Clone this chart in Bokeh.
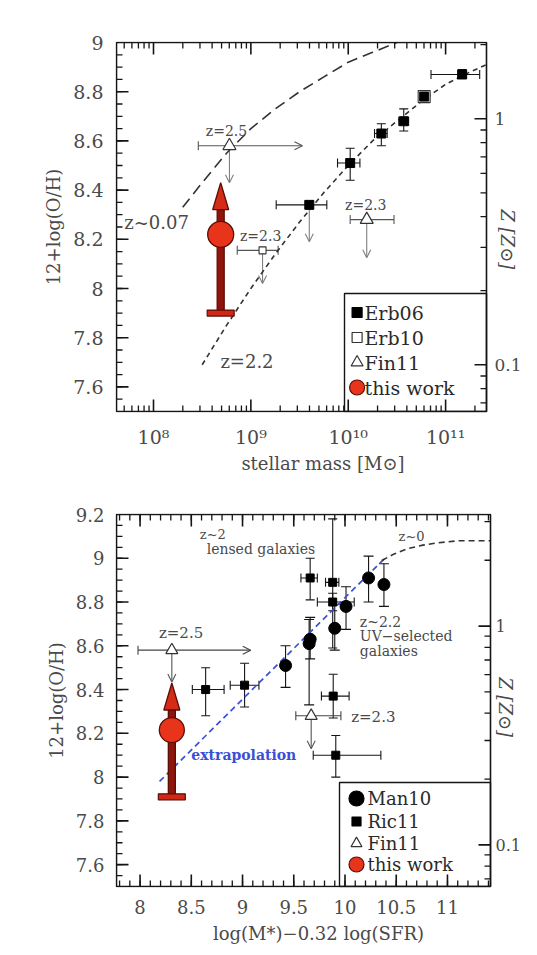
import math
from bokeh.plotting import figure
from bokeh.models import (ColumnDataSource, Whisker, TeeHead, Arrow, OpenHead, FixedTicker)
from bokeh.layouts import column
from bokeh.core.properties import value
from bokeh.embed import file_html
from bokeh.resources import INLINE

SERIF = "DejaVu Serif"
INK = "#151515"
TXT = "#4a4a4a"
LIM = "#808080"
RED = "#e8341b"
RED_DARK = "#5c0d06"
BLUE = "#3a4fd6"

# ---------------- shared axis data ----------------
solar_oh = 8.69
z_major = [0.1, 1.0]
z_major_labels = ["0.1", "1"]
z_minor = [0.07, 0.08, 0.09, 0.2, 0.3, 0.4, 0.5, 0.6, 0.7, 0.8, 0.9, 2.0, 3.0]
z_axis_title = "Z [Z⊙]"

# ---------------- top panel data (x = log10 stellar mass) ----------------
mass_tick_logs = [8, 9, 10, 11]
mass_tick_labels = ["10⁸", "10⁹", "10¹⁰", "10¹¹"]
oh_tick_labels_top = ["7.6", "7.8", "8", "8.2", "8.4", "8.6", "8.8", "9"]

erb06_logm = [9.60, 10.02, 10.34, 10.57, 10.78, 11.17]
erb06_oh = [8.34, 8.51, 8.63, 8.68, 8.78, 8.87]
erb06_logm_lo = [9.26, 9.89, 10.27, 10.52, 10.74, 10.85]
erb06_logm_hi = [9.78, 10.12, 10.40, 10.62, 10.83, 11.35]
erb06_oh_lo = [None, 8.44, 8.58, 8.64, 8.76, 8.86]
erb06_oh_hi = [None, 8.57, 8.67, 8.73, 8.80, 8.89]
erb06_oh_limit_to = [8.19, None, None, None, None, None]

erb10_logm = [9.12, 10.78]
erb10_oh = [8.155, 8.78]
erb10_size = [7, 12]
erb10_logm_lo = [8.86, None]
erb10_logm_hi = [9.28, None]
erb10_oh_limit_to = [8.02, None]

fin11_logm = [8.78, 10.19]
fin11_oh = [8.58, 8.28]
fin11_logm_lo = [8.46, 10.02]
fin11_logm_hi = [9.53, 10.47]
fin11_logm_is_lower_limit = [True, False]
fin11_oh_limit_to = [8.43, 8.125]

this_work_logm = 8.69
this_work_oh = 8.22
this_work_oh_low = 7.90
this_work_oh_arrow_to = 8.43

z007_logm = [8.30, 8.50, 8.75, 9.00, 9.25, 9.50, 9.75, 10.00, 10.25, 10.50]
z007_oh = [8.33, 8.43, 8.55, 8.65, 8.73, 8.80, 8.86, 8.92, 8.96, 9.00]
z22_logm = [8.50, 8.75, 9.00, 9.25, 9.50, 9.75, 10.00, 10.25, 10.50, 10.75, 11.00, 11.25, 11.42]
z22_oh = [7.69, 7.85, 8.00, 8.14, 8.27, 8.39, 8.50, 8.60, 8.68, 8.76, 8.83, 8.88, 8.91]

top_small_text = ["z=2.5", "z=2.3", "z=2.3"]
top_small_x = [8.75, 10.18, 9.10]
top_small_y = [8.64, 8.34, 8.215]
top_big_text = ["z~0.07", "z=2.2"]
top_big_x = [7.70, 8.96]
top_big_y = [8.27, 7.705]
top_big_align = ["left", "center"]
top_z_title_oh = 8.20

legend_top_labels = ["Erb06", "Erb10", "Fin11", "this work"]

# ---------------- bottom panel data (x = log M* - 0.32 log SFR) ----------------
mu_tick_labels = ["8", "8.5", "9", "9.5", "10", "10.5", "11"]
oh_tick_labels_bot = ["7.6", "7.8", "8", "8.2", "8.4", "8.6", "8.8", "9", "9.2"]

man10_mu = [9.42, 9.66, 9.65, 9.90, 10.01, 10.23, 10.38]
man10_oh = [8.51, 8.63, 8.61, 8.68, 8.78, 8.91, 8.88]
man10_oh_lo = [8.41, 8.54, 8.33, 8.58, 8.675, 8.80, 8.78]
man10_oh_hi = [8.60, 8.73, 8.72, 8.79, 8.87, 9.01, 8.975]

ric11_mu = [8.64, 9.02, 9.66, 9.88, 9.88, 9.885, 9.91]
ric11_oh = [8.40, 8.42, 8.91, 8.89, 8.80, 8.37, 8.10]
ric11_mu_lo = [8.51, 8.88, 9.57, 9.81, 9.73, 9.77, 9.69]
ric11_mu_hi = [8.82, 9.16, 9.73, 9.94, 10.09, 10.04, 10.35]
ric11_oh_lo = [8.28, 8.32, 8.81, 8.59, 8.76, 8.27, 8.00]
ric11_oh_hi = [8.50, 8.52, 9.00, 9.18, 8.84, 8.47, 8.19]

fin11b_mu = [8.31, 9.67]
fin11b_oh = [8.58, 8.28]
fin11b_mu_lo = [7.98, 9.52]
fin11b_mu_hi = [9.08, 9.96]
fin11b_mu_is_lower_limit = [True, False]
fin11b_oh_limit_to = [8.435, 8.13]

this_work_mu = 8.31
this_work_oh_b = 8.215
this_work_oh_low_b = 7.91
this_work_oh_arrow_to_b = 8.43

extrap_mu = [8.19, 10.41]
extrap_oh = [7.98, 9.01]
z0_mu = [10.36, 10.48, 10.62, 10.76, 10.90, 11.10, 11.42]
z0_oh = [8.99, 9.02, 9.045, 9.06, 9.07, 9.08, 9.08]

bot_text = ["z=2.5", "z=2.3", "z~2", "lensed galaxies", "z~0",
            "z~2.2", "UV−selected", "galaxies"]
bot_text_x = [8.40, 10.06, 8.71, 9.18, 10.65, 10.145, 10.145, 10.145]
bot_text_y = [8.66, 8.276, 9.11, 9.043, 9.10, 8.71, 8.645, 8.575]
bot_text_align = ["center", "left", "center", "center", "center", "left", "left", "left"]
bot_text_size = ["15px", "15px", "13px", "14px", "13px", "14px", "14px", "14px"]
extrap_label = "extrapolation"
extrap_label_x = 8.50
extrap_label_y = 8.10
bot_z_title_oh = 8.32

legend_bot_labels = ["Man10", "Ric11", "Fin11", "this work"]


# ---------------- helpers ----------------
def pick(*cols):
    rows = [r for r in zip(*cols) if all(v is not None for v in r)]
    return [list(c) for c in zip(*rows)] if rows else [[] for _ in cols]


def style_axis(ax, size, standoff):
    ax.axis_line_color = None
    ax.major_tick_in = 0
    ax.major_tick_out = 0
    ax.minor_tick_in = 0
    ax.minor_tick_out = 0
    ax.major_tick_line_color = None
    ax.minor_tick_line_color = None
    ax.major_label_text_font = SERIF
    ax.major_label_text_color = TXT
    ax.major_label_text_font_size = size
    ax.major_label_standoff = standoff
    ax.axis_label_text_font = SERIF
    ax.axis_label_text_font_style = "normal"
    ax.axis_label_text_color = TXT
    ax.axis_label_text_font_size = "18px"


def z_positions():
    ticks = [solar_oh + math.log10(z) for z in z_major]
    minor = [solar_oh + math.log10(z) for z in z_minor]
    return ticks, minor


class Panel:
    """A plotting box (xr, yr, fw x fh px) inside a Bokeh frame that is 1px larger on
    the left/top/bottom and `extra` px wider on the right (room for the Z axis)."""

    def __init__(self, xr, yr, fw, fh, left, top, bottom, extra):
        self.xr, self.yr, self.fw, self.fh = xr, yr, fw, fh
        self.xpu = fw / (xr[1] - xr[0])
        self.ypu = fh / (yr[1] - yr[0])
        pad = 1
        fxr = (xr[0] - pad / self.xpu, xr[1] + extra / self.xpu)
        fyr = (yr[0] - pad / self.ypu, yr[1] + pad / self.ypu)
        p = figure(frame_width=fw + pad + extra, frame_height=fh + 2 * pad,
                   x_range=fxr, y_range=fyr,
                   min_border_left=left - pad, min_border_right=0,
                   min_border_top=top - pad, min_border_bottom=bottom - pad,
                   output_backend="svg", toolbar_location=None)
        p.grid.visible = False
        p.outline_line_color = None
        p.background_fill_color = "white"
        p.border_fill_color = "white"
        self.p = p

    def axes(self, xt, xlabels, yt, ylabels, fsize, xstand, ystand, xtitle, ytitle,
             xtitle_standoff):
        p = self.p
        bx = p.below[0]
        bx.ticker = FixedTicker(ticks=xt)
        bx.major_label_overrides = dict(zip(xt, xlabels))
        style_axis(bx, fsize, xstand)
        bx.axis_label = xtitle
        bx.axis_label_standoff = xtitle_standoff
        ly = p.left[0]
        ly.ticker = FixedTicker(ticks=yt)
        ly.major_label_overrides = dict(zip(yt, ylabels))
        style_axis(ly, fsize, ystand)
        ly.axis_label = ytitle
        ly.axis_label_standoff = 6

    def box_and_ticks(self, xmaj, xmin, ymaj, ymin, rmaj, rmin, big=12, small=6):
        p, xr, yr = self.p, self.xr, self.yr
        dx, dy = 1 / self.xpu, 1 / self.ypu
        segs = {"maj": ([], [], [], []), "min": ([], [], [], [])}

        def add(kind, a, b, c, d):
            s = segs[kind]
            s[0].append(a); s[1].append(b); s[2].append(c); s[3].append(d)

        for kind, L, vals in (("maj", big, xmaj), ("min", small, xmin)):
            for t in vals:
                if xr[0] < t < xr[1]:
                    add(kind, t, yr[0], t, yr[0] + L * dy)
                    add(kind, t, yr[1], t, yr[1] - L * dy)
        for kind, L, vals in (("maj", big, ymaj), ("min", small, ymin)):
            for t in vals:
                if yr[0] < t < yr[1]:
                    add(kind, xr[0], t, xr[0] + L * dx, t)
        for kind, L, vals in (("maj", big, rmaj), ("min", small, rmin)):
            for t in vals:
                if yr[0] < t < yr[1]:
                    add(kind, xr[1], t, xr[1] - L * dx, t)
        for kind, w in (("maj", 1.6), ("min", 1.3)):
            a, b, c, d = segs[kind]
            p.segment(a, b, c, d, line_color=INK, line_width=w)
        p.quad(left=[xr[0]], right=[xr[1]], bottom=[yr[0]], top=[yr[1]],
               fill_color=None, line_color=INK, line_width=1.6)

    def right_axis(self, ticks, labels, fsize, standoff, title, title_y, title_dx):
        p, xr = self.p, self.xr
        p.text([xr[1] + standoff / self.xpu] * len(ticks), ticks, text=labels,
               text_font=value(SERIF), text_font_size=fsize, text_color=TXT,
               text_align="left", text_baseline="middle")
        p.text([xr[1] + title_dx / self.xpu], [title_y], text=[title],
               text_font=value(SERIF), text_font_size="18px", text_color=TXT,
               text_font_style="italic", text_align="center", text_baseline="middle",
               angle=-math.pi / 2)


def whisk(p, base, lo, hi, dim, color=INK, cap=9):
    b, l, h = pick(base, lo, hi)
    if not b:
        return
    src = ColumnDataSource(dict(b=b, lo=l, hi=h))
    p.add_layout(Whisker(source=src, base="b", lower="lo", upper="hi", dimension=dim,
                         line_color=color, line_width=1.1,
                         lower_head=TeeHead(size=cap, line_color=color, line_width=1.1),
                         upper_head=TeeHead(size=cap, line_color=color, line_width=1.1)))


def down_limits(p, x, y, to, color=LIM):
    xs, ys, ts = pick(x, y, to)
    if not xs:
        return
    src = ColumnDataSource(dict(x=xs, y=ys, t=ts))
    p.add_layout(Arrow(x_start="x", y_start="y", x_end="x", y_end="t", source=src,
                       line_color=color, line_width=1.1, level="underlay",
                       end=OpenHead(size=8, line_color=color, line_width=1.1)))


def right_limit_and_errors(p, y, lo, hi, is_limit, color):
    for yy, l, h, lim in zip(y, lo, hi, is_limit):
        if lim:
            p.add_layout(Arrow(x_start=l, y_start=yy, x_end=h, y_end=yy,
                               line_color=color, line_width=1.1, level="underlay",
                               start=TeeHead(size=9, line_color=color, line_width=1.1),
                               end=OpenHead(size=8, line_color=color, line_width=1.1)))
        else:
            whisk(p, [yy], [l], [h], "width", color=color)


def draw_this_work(panel, x, y, lo, hi, csize):
    p = panel.p
    hw = 8.0 / panel.xpu
    base = hi - 27.0 / panel.ypu
    p.rect(x=[x], y=[(lo + base) / 2], width=7, height=[base - lo], width_units="screen",
           fill_color="#8e150c", line_color=RED_DARK, line_width=1.3)
    p.rect(x=[x], y=[lo], width=27, height=6, width_units="screen", height_units="screen",
           fill_color="#d02814", line_color=RED_DARK, line_width=1.2)
    p.patch([x - hw, x, x + hw], [base, hi, base], fill_color="#d52c16",
            line_color=RED_DARK, line_width=1.3)
    p.scatter([x], [y], marker="circle", size=csize, fill_color=RED,
              line_color=RED_DARK, line_width=1.3)


def draw_legend(panel, box_w, box_h, entries, mdx, tdx, fsize):
    p, xr, yr = panel.p, panel.xr, panel.yr
    left = xr[1] - box_w / panel.xpu
    top = yr[0] + box_h / panel.ypu
    p.quad(left=[left], right=[xr[1]], bottom=[yr[0]], top=[top],
           fill_color="white", line_color=INK, line_width=1.4)
    for label, dy, marker, size, fill, line in entries:
        yy = yr[0] + dy / panel.ypu
        p.scatter([left + mdx / panel.xpu], [yy], marker=marker, size=size,
                  fill_color=fill, line_color=line, line_width=1.2)
        p.text([left + tdx / panel.xpu], [yy], text=[label], text_font=value(SERIF),
               text_font_size=fsize, text_color="#2a2a2a",
               text_align="left", text_baseline="middle")


def texts(p, xs, ys, labels, size, align, color=TXT, style="normal"):
    p.text(xs, ys, text=labels, text_font=value(SERIF), text_font_size=size,
           text_color=color, text_align=align, text_baseline="middle",
           text_font_style=style)


zt, zm = z_positions()

# =================== TOP PANEL ===================
top = Panel((7.62, 11.42), (7.5, 9.0), 370, 369, left=107, top=42, bottom=62, extra=44)
p1 = top.p
x_minor_top = [d + math.log10(k) for d in range(7, 12) for k in range(2, 10)]
y_ticks_top = [float(s) for s in oh_tick_labels_top]
y_minor_top = [round(7.5 + 0.05 * i, 2) for i in range(31)]
top.axes(mass_tick_logs, mass_tick_labels, y_ticks_top, oh_tick_labels_top,
         "19px", 13, 12, "stellar mass [M⊙]", "12+log(O/H)", 2)

p1.line(z007_logm, z007_oh, line_color="#333333", line_width=1.6, line_dash="11 6")
p1.line(z22_logm, z22_oh, line_color="#333333", line_width=1.6, line_dash="5 4")

whisk(p1, erb06_logm, erb06_oh_lo, erb06_oh_hi, "height")
whisk(p1, erb06_oh, erb06_logm_lo, erb06_logm_hi, "width")
down_limits(p1, erb06_logm, erb06_oh, erb06_oh_limit_to)
whisk(p1, erb10_oh, erb10_logm_lo, erb10_logm_hi, "width", color="#555555")
down_limits(p1, erb10_logm, erb10_oh, erb10_oh_limit_to)
right_limit_and_errors(p1, fin11_oh, fin11_logm_lo, fin11_logm_hi,
                       fin11_logm_is_lower_limit, "#555555")
down_limits(p1, fin11_logm, fin11_oh, fin11_oh_limit_to)

p1.scatter(erb10_logm, erb10_oh, marker="square", size=erb10_size,
           fill_color="white", line_color="#333333", line_width=1.1)
p1.scatter(erb06_logm, erb06_oh, marker="square", size=9, fill_color="black",
           line_color="black")
p1.scatter(fin11_logm, fin11_oh, marker="triangle", size=13, fill_color="white",
           line_color="#333333", line_width=1.2)
draw_this_work(top, this_work_logm, this_work_oh, this_work_oh_low, this_work_oh_arrow_to, 26)

texts(p1, top_small_x, top_small_y, top_small_text, "14px", "center")
for t, x, y, a in zip(top_big_text, top_big_x, top_big_y, top_big_align):
    texts(p1, [x], [y], [t], "18px", a)

draw_legend(top, 142, 118,
            [(legend_top_labels[0], 99, "square", 10, "black", "black"),
             (legend_top_labels[1], 74, "square", 10, "white", "#333333"),
             (legend_top_labels[2], 49, "triangle", 12, "white", "#333333"),
             (legend_top_labels[3], 24, "circle", 15, RED, RED_DARK)],
            12.6, 20, "19px")

top.box_and_ticks(mass_tick_logs, x_minor_top, y_ticks_top, y_minor_top, zt, zm)
top.right_axis(zt, z_major_labels, "17px", 8, z_axis_title, top_z_title_oh, 21)

# =================== BOTTOM PANEL ===================
bot = Panel((7.77, 11.42), (7.5, 9.2), 374, 372, left=116, top=38, bottom=60, extra=31)
p2 = bot.p
x_ticks_bot = [float(s) for s in mu_tick_labels]
x_minor_bot = [round(7.8 + 0.1 * i, 2) for i in range(37)]
y_ticks_bot = [float(s) for s in oh_tick_labels_bot]
y_minor_bot = [round(7.5 + 0.05 * i, 2) for i in range(35)]
bot.axes(x_ticks_bot, mu_tick_labels, y_ticks_bot, oh_tick_labels_bot,
         "18px", 12, 11, "log(M*)−0.32 log(SFR)", "12+log(O/H)", 6)

p2.line(extrap_mu, extrap_oh, line_color=BLUE, line_width=1.7, line_dash="6 4")
p2.line(z0_mu, z0_oh, line_color="#333333", line_width=1.6, line_dash="6 4")

whisk(p2, man10_mu, man10_oh_lo, man10_oh_hi, "height", cap=10)
whisk(p2, ric11_mu, ric11_oh_lo, ric11_oh_hi, "height", cap=9)
whisk(p2, ric11_oh, ric11_mu_lo, ric11_mu_hi, "width", cap=9)
right_limit_and_errors(p2, fin11b_oh, fin11b_mu_lo, fin11b_mu_hi,
                       fin11b_mu_is_lower_limit, "#444444")
down_limits(p2, fin11b_mu, fin11b_oh, fin11b_oh_limit_to, color="#555555")

p2.scatter(man10_mu, man10_oh, marker="circle", size=12, fill_color="black",
           line_color="black")
p2.scatter(ric11_mu, ric11_oh, marker="square", size=8, fill_color="black",
           line_color="black")
p2.scatter(fin11b_mu, fin11b_oh, marker="triangle", size=12, fill_color="white",
           line_color="#333333", line_width=1.2)
draw_this_work(bot, this_work_mu, this_work_oh_b, this_work_oh_low_b,
               this_work_oh_arrow_to_b, 25)

for t, x, y, a, s in zip(bot_text, bot_text_x, bot_text_y, bot_text_align, bot_text_size):
    texts(p2, [x], [y], [t], s, a)
texts(p2, [extrap_label_x], [extrap_label_y], [extrap_label], "14px", "left",
      color=BLUE, style="bold")

draw_legend(bot, 151, 104,
            [(legend_bot_labels[0], 88, "circle", 15, "black", "black"),
             (legend_bot_labels[1], 65, "square", 9, "black", "black"),
             (legend_bot_labels[2], 43, "triangle", 11, "white", "#333333"),
             (legend_bot_labels[3], 22, "circle", 15, RED, RED_DARK)],
            17, 28, "18px")

bot.box_and_ticks(x_ticks_bot, x_minor_bot, y_ticks_bot, y_minor_bot, zt, zm)
bot.right_axis(zt, z_major_labels, "16px", 5, z_axis_title, bot_z_title_oh, 15)

layout = column(p1, p2)
open("out.html", "w").write(file_html(layout, INLINE))
